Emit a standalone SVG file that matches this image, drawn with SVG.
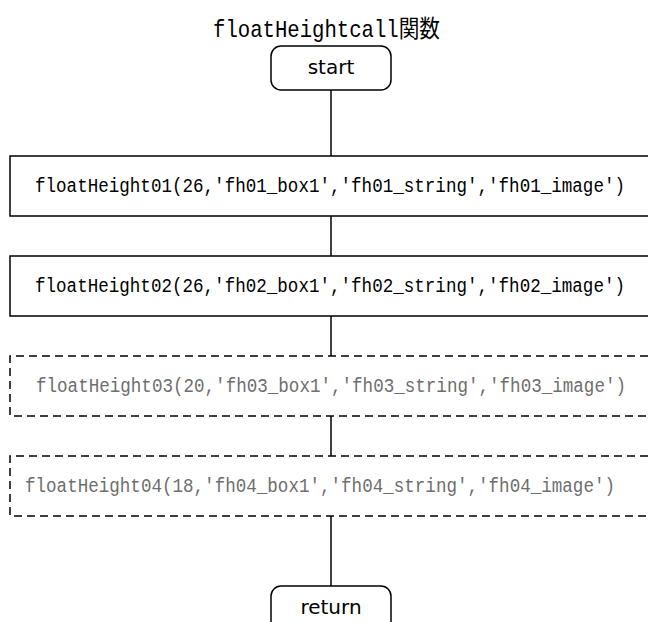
<svg xmlns="http://www.w3.org/2000/svg" width="648" height="622" viewBox="0 0 648 622">
<style>
.box{fill:#fff;stroke:#000;stroke-width:1.5}
.dash{fill:#fff;stroke:#000;stroke-width:1.5;stroke-dasharray:8,5}
.term{fill:#fff;stroke:#000;stroke-width:1.5}
.mono{font-family:"Liberation Mono","Noto Sans CJK JP",monospace;font-size:17.5px}
.gray{fill:#6e6e6e}
.sans{font-family:"DejaVu Sans",sans-serif;font-size:20px;text-anchor:middle}
.conn line{stroke:#000;stroke-width:1.5}
</style>
<rect width="648" height="622" fill="#fff"/>
<text id="title" transform="translate(213,37) scale(1,1.15)" x="0" y="0" class="mono" style="font-size:20.5px" textLength="227" lengthAdjust="spacingAndGlyphs">floatHeightcall関数</text>
<g class="conn">
<line x1="331" y1="90" x2="331" y2="156"/>
<line x1="331" y1="216" x2="331" y2="256"/>
<line x1="331" y1="316" x2="331" y2="356"/>
<line x1="331" y1="416" x2="331" y2="456"/>
<line x1="331" y1="516" x2="331" y2="586"/>
</g>
<g id="start">
<rect x="271" y="46" width="120" height="44" rx="10" class="term"/>
<text x="331" y="74" class="sans">start</text>
</g>
<g id="fh01">
<path d="M648 156H10V216H648" class="box"/>
<text transform="translate(35,192) scale(1,1.2)" x="0" y="0" class="mono" textLength="590" lengthAdjust="spacingAndGlyphs">floatHeight01(26,'fh01_box1','fh01_string','fh01_image')</text>
</g>
<g id="fh02">
<path d="M648 256H10V316H648" class="box"/>
<text transform="translate(35,292) scale(1,1.2)" x="0" y="0" class="mono" textLength="590" lengthAdjust="spacingAndGlyphs">floatHeight02(26,'fh02_box1','fh02_string','fh02_image')</text>
</g>
<g id="fh03">
<path d="M648 356H10V416H648" class="dash"/>
<text transform="translate(36,392) scale(1,1.2)" x="0" y="0" class="mono gray" textLength="590" lengthAdjust="spacingAndGlyphs">floatHeight03(20,'fh03_box1','fh03_string','fh03_image')</text>
</g>
<g id="fh04">
<path d="M648 456H10V516H648" class="dash"/>
<text transform="translate(25,492) scale(1,1.2)" x="0" y="0" class="mono gray" textLength="590" lengthAdjust="spacingAndGlyphs">floatHeight04(18,'fh04_box1','fh04_string','fh04_image')</text>
</g>
<g id="return">
<path d="M271 622V596A10 10 0 0 1 281 586H381A10 10 0 0 1 391 596V622" class="term"/>
<text x="331" y="614" class="sans">return</text>
</g>
</svg>
